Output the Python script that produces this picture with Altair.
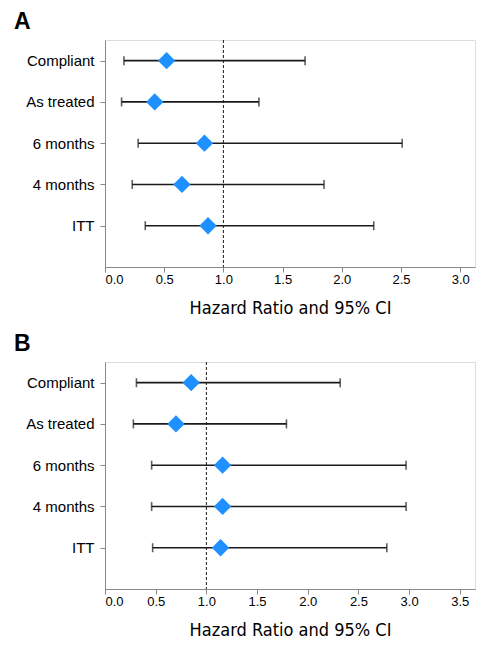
import altair as alt
import pandas as pd

# ---- data ----
categories = ["Compliant", "As treated", "6 months", "4 months", "ITT"]

a_hr = [0.52, 0.42, 0.84, 0.65, 0.87]
a_lo = [0.16, 0.14, 0.28, 0.23, 0.34]
a_hi = [1.69, 1.30, 2.51, 1.85, 2.27]

b_hr = [0.85, 0.70, 1.16, 1.16, 1.14]
b_lo = [0.31, 0.28, 0.46, 0.46, 0.47]
b_hi = [2.32, 1.79, 2.97, 2.97, 2.78]

x_ticks_a = [0.0, 0.5, 1.0, 1.5, 2.0, 2.5, 3.0]
x_ticks_b = [0.0, 0.5, 1.0, 1.5, 2.0, 2.5, 3.0, 3.5]
x_max_a = 3.125
x_max_b = 3.65
ref_value = [1.0]

x_title = "Hazard Ratio and 95% CI"
panel_labels = ["A", "B"]

# ---- styling ----
BLUE = "#1E90FF"
INK = "#1a1a1a"
FONT = "Liberation Sans"
NARROW = "'DejaVu Sans Condensed', 'Liberation Sans', sans-serif"

n = len(categories)
pos = [n - i for i in range(n)]
label_expr = " : ".join(
    f"datum.value == {p} ? '{c}'" for p, c in zip(pos, categories)
) + " : ''"


def panel(label, hr, lo, hi, ticks, xmax):
    df = pd.DataFrame({"cat": categories, "pos": pos, "hr": hr, "lo": lo, "hi": hi})
    ref = pd.DataFrame({"ref": ref_value})

    xscale = alt.Scale(domain=[0, xmax], nice=False, zero=True)
    yscale = alt.Scale(domain=[0, n + 0.5], nice=False)

    xaxis = alt.Axis(
        values=ticks, format=".1f", title=x_title, grid=False,
        titleFont=NARROW, titleFontSize=18, titleFontWeight="normal",
        titlePadding=13, labelFontSize=13, labelPadding=1,
    )
    yaxis = alt.Axis(
        values=pos, labelExpr=label_expr, title=None, grid=False,
        labelFontSize=15, labelPadding=6,
    )

    base = alt.Chart(df)

    refline = alt.Chart(ref).mark_rule(
        color=INK, strokeWidth=1, strokeDash=[3, 2]
    ).encode(x=alt.X("ref:Q", scale=xscale, axis=xaxis))

    bars = base.mark_rule(color=INK, strokeWidth=1.6).encode(
        x=alt.X("lo:Q", scale=xscale, axis=xaxis),
        x2="hi:Q",
        y=alt.Y("pos:Q", scale=yscale, axis=yaxis),
    )
    cap_lo = base.mark_tick(color=INK, orient="vertical", size=9, thickness=1.6).encode(
        x=alt.X("lo:Q", scale=xscale),
        y=alt.Y("pos:Q", scale=yscale),
    )
    cap_hi = base.mark_tick(color=INK, orient="vertical", size=9, thickness=1.6).encode(
        x=alt.X("hi:Q", scale=xscale),
        y=alt.Y("pos:Q", scale=yscale),
    )
    pts = base.mark_point(
        shape="diamond", filled=True, size=300, color=BLUE, opacity=1
    ).encode(
        x=alt.X("hr:Q", scale=xscale),
        y=alt.Y("pos:Q", scale=yscale),
    )

    return alt.layer(refline, bars, cap_lo, cap_hi, pts).properties(
        width=370,
        height=227,
        title=alt.TitleParams(
            label, anchor="start", frame="group", dx=-91, offset=6,
            fontSize=23, fontWeight="bold", font=FONT, color="#000000",
        ),
    )


pa = panel(panel_labels[0], a_hr, a_lo, a_hi, x_ticks_a, x_max_a)
pb = panel(panel_labels[1], b_hr, b_lo, b_hi, x_ticks_b, x_max_b)

chart = alt.vconcat(pa, pb, spacing=14).properties(
    padding={"left": 5, "top": 2, "right": 0, "bottom": 0}
).configure_view(stroke=None).configure_axis(
    domainColor=INK, domainWidth=2, tickColor=INK, tickWidth=1.5, tickSize=5,
    labelColor=INK, titleColor=INK, labelFont=FONT, titleFont=FONT,
).configure(font=FONT)

chart.save("out.html", embed_options={"renderer": "svg", "actions": False})
